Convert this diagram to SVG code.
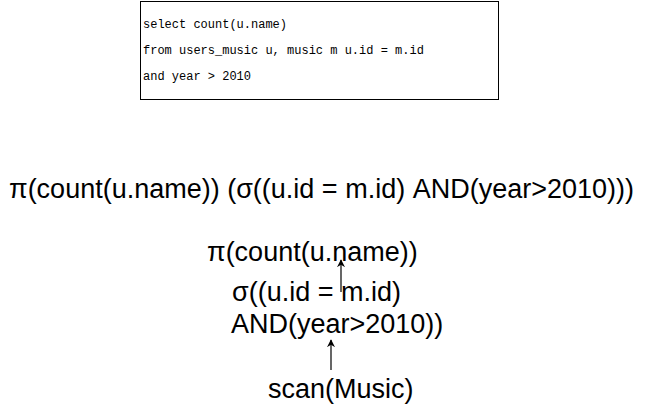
<svg xmlns="http://www.w3.org/2000/svg" width="651" height="407" viewBox="0 0 651 407">
<defs>
<style>
.sql{font-family:"Liberation Mono","Courier New",monospace;font-size:12px;fill:#000}
.ra{font-family:"Liberation Sans",Arial,Helvetica,sans-serif;font-size:27px;fill:#000}
.edge{stroke:#000;stroke-width:1.2;fill:none}
</style>
<marker id="arr" viewBox="0 0 10 10" refX="9" refY="5" markerWidth="8" markerHeight="8" markerUnits="userSpaceOnUse" orient="auto">
<path d="M0,0 L10,5 L0,10 L3,5 z" fill="#000"/>
</marker>
</defs>
<rect width="651" height="407" fill="#fff"/>
<g id="sql-box">
<rect x="140.5" y="1.5" width="358" height="98" fill="#fff" stroke="#000" stroke-width="1"/>
<text class="sql" x="143" y="28">select count(u.name)</text>
<text class="sql" x="143" y="54">from users_music u, music m u.id = m.id</text>
<text class="sql" x="143" y="80">and year &gt; 2010</text>
</g>
<g id="formula">
<text class="ra" x="9" y="198">π(count(u.name)) (σ((u.id = m.id) AND(year&gt;2010)))</text>
</g>
<g id="project">
<text class="ra" x="207" y="261">π(count(u.name))</text>
</g>
<g id="select">
<text class="ra" x="232" y="301">σ((u.id = m.id)</text>
<text class="ra" x="231" y="333">AND(year&gt;2010))</text>
</g>
<g id="scan">
<text class="ra" x="268" y="398">scan(Music)</text>
</g>
<g id="connectors">
<line class="edge" x1="341" y1="292" x2="341" y2="260" marker-end="url(#arr)"/>
<line class="edge" x1="331" y1="370" x2="331" y2="340" marker-end="url(#arr)"/>
</g>
</svg>
